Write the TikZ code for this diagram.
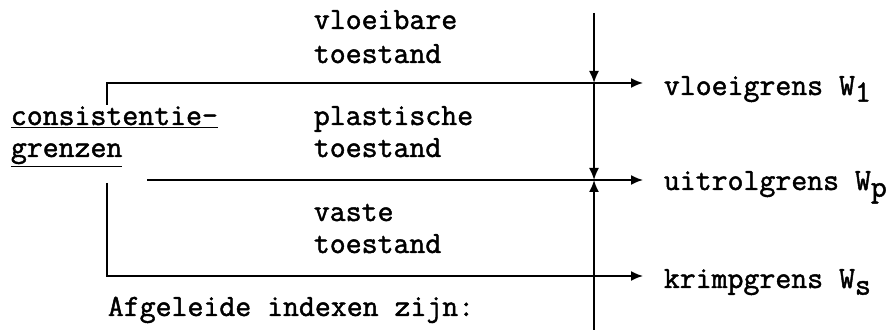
\documentclass[tikz,border=0pt]{standalone}
\usepackage{fontspec}
\newfontfamily\typm{Latin Modern Mono}[FakeBold=1.5]
\usetikzlibrary{arrows.meta}
\tikzset{
 lbl/.style={anchor=base west, inner sep=0pt, font=\typm\fontsize{17.6}{20}\selectfont},
 pijl/.style={-{Latex[length=0.24cm,width=0.2cm]}},
}
\newcommand{\sub}[1]{\raisebox{-0.5ex}{#1}}
\begin{document}
\begin{tikzpicture}[x=0.02cm, y=-0.02cm, line width=1pt]
 \useasboundingbox (0,0) rectangle (891,330);
 % toestanden
 \node [lbl] (vloei) at (313,29) {vloeibare};
 \node [lbl] (vloeit) at (313,63) {toestand};
 \node [lbl] (plast) at (313,125) {plastische};
 \node [lbl] (plastt) at (313,157) {toestand};
 \node [lbl] (vast) at (313,221) {vaste};
 \node [lbl] (vastt) at (313,253) {toestand};
 \node [lbl] (cons) at (10,125) {\underline{consistentie-}};
 \node [lbl] (gren) at (10,157) {\underline{grenzen}};
 \node [lbl] (afgel) at (107,316) {Afgeleide indexen zijn:};
 % grenzen
 \node [lbl] (wl) at (663,95) {vloeigrens W\sub{1}};
 \node [lbl] (wp) at (663,190) {uitrolgrens W\sub{p}};
 \node [lbl] (ws) at (663,288) {krimpgrens W\sub{s}};
 \coordinate (lb) at (107,105);
 \coordinate (la) at (107,83);
 \coordinate (lc) at (147,180);
 \coordinate (ld) at (107,183);
 \coordinate (le) at (107,276);
 \coordinate (ta) at (594,13);
 \coordinate (tb) at (594,83);
 \coordinate (tc) at (594,180);
 \coordinate (td) at (594,330);
 \draw [pijl] (lb) -- (la) -- ([xshift=-20*0.02cm]wl.west |- la);
 \draw [pijl] (lc) -- ([xshift=-20*0.02cm]wp.west |- lc);
 \draw [pijl] (ld) -- (le) -- ([xshift=-20*0.02cm]ws.west |- le);
 \draw [pijl] (ta) -- (tb);
 \draw [pijl] (tb) -- (tc);
 \draw [pijl] (td) -- (tc);
\end{tikzpicture}
\end{document}
